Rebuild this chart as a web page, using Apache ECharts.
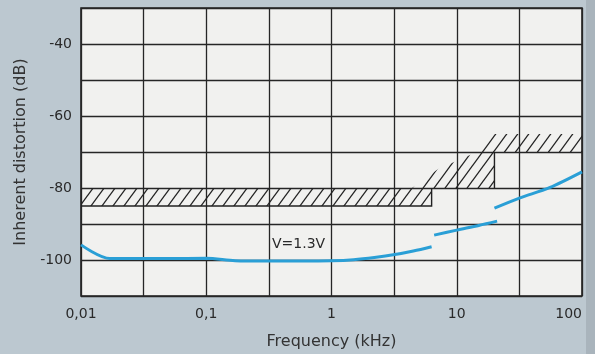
<!DOCTYPE html>
<html>
<head>
<meta charset="utf-8">
<script src="https://cdn.jsdelivr.net/npm/echarts@6/dist/echarts.min.js"></script>
<style>
html,body{margin:0;padding:0;background:#bcc8d0;}
#chart{width:595px;height:354px;}
</style>
</head>
<body>
<div id="chart"></div>
<script>
// ---- data ----
const xTickLabels = ['0,01', '0,1', '1', '10', '100'];   // decades 0.01 .. 100 kHz
const yTickLabels = [-100, -80, -60, -40];
const curveLow = [[0.01,-95.8],[0.017,-99.6],[0.05,-99.6],[0.1,-99.5],[0.17,-100.2],[0.3,-100.3],[0.6,-100.3],[1,-100.2],[1.5,-99.9],[2.2,-99.3],[3.2,-98.5],[4.5,-97.5],[6.3,-96.3]];
const curveMid = [[6.6,-93.1],[10,-91.7],[15,-90.4],[21,-89.2]];
const curveHigh = [[20,-85.6],[31.6,-82.8],[55,-79.9],[100,-75.5]];
const hatchBandLow = [[0.01,-80],[6.3,-80],[6.3,-85],[0.01,-85]];
const hatchStep = [[4.4,-80],[20,-80],[20,-70],[100,-70],[100,-65],[18.4,-65],[14.5,-70],[7.1,-74.7]];
const borderLow = [[0.01,-85],[6.3,-85],[6.3,-80]];
const borderStep = [[20,-80],[20,-70]];
const curveLabel = 'V=1.3V';

// ---- hatch pattern ----
function makeHatch(){
  const w = 11, h = 15;
  const c = document.createElement('canvas');
  c.width = w; c.height = h;
  const ctx = c.getContext('2d');
  ctx.strokeStyle = '#222';
  ctx.lineWidth = 1.3;
  [-w, 0, w].forEach(o => {
    ctx.beginPath();
    ctx.moveTo(o - w, 2 * h);
    ctx.lineTo(o + 2 * w, -h);
    ctx.stroke();
  });
  return c;
}
const hatchCanvas = makeHatch();
const hatchRegions = [hatchBandLow, hatchStep];
const borders = [borderLow, borderStep];

const chart = echarts.init(document.getElementById('chart'), null, {renderer: 'canvas'});
const fontFam = '"DejaVu Sans", "Liberation Sans", sans-serif';
const blue = '#2a9fd6';

function lineSeries(data){
  return {
    type: 'line', xAxisIndex: 0, yAxisIndex: 0, data: data,
    symbol: 'none', smooth: 0.3, z: 5,
    lineStyle: {color: blue, width: 3, cap: 'butt'}
  };
}

chart.setOption({
  backgroundColor: '#bcc8d0',
  animation: false,
  grid: {
    left: 81, right: 13, top: 8, bottom: 58,
    show: true, backgroundColor: '#f1f1ef', borderColor: '#222', borderWidth: 1.6,
    outerBoundsMode: 'none'
  },
  xAxis: [
    {
      type: 'log', logBase: 10, min: 0.01, max: 100,
      name: 'Frequency (kHz)', nameLocation: 'middle', nameGap: 38,
      nameTextStyle: {fontFamily: fontFam, fontSize: 16, color: '#333'},
      axisLine: {show: false}, axisTick: {show: false}, splitLine: {show: false},
      axisLabel: {
        fontFamily: fontFam, fontSize: 14, color: '#2a2a2a', margin: 11,
        alignMaxLabel: 'right',
        formatter: v => xTickLabels[Math.round(Math.log10(v)) + 2] || ''
      }
    },
    {
      // half-decade grid lines only
      type: 'value', min: -2, max: 2, interval: 0.5, position: 'bottom',
      axisLine: {show: false}, axisTick: {show: false}, axisLabel: {show: false},
      splitLine: {show: true, lineStyle: {color: '#262626', width: 1.3}}
    }
  ],
  yAxis: {
    type: 'value', min: -110, max: -30, interval: 10,
    name: 'Inherent distortion (dB)', nameLocation: 'middle', nameGap: 50,
    nameTextStyle: {fontFamily: fontFam, fontSize: 16, color: '#333'},
    axisLine: {show: false}, axisTick: {show: false},
    splitLine: {show: true, lineStyle: {color: '#262626', width: 1.3}},
    axisLabel: {
      fontFamily: fontFam, fontSize: 14, color: '#2a2a2a', margin: 9,
      formatter: v => yTickLabels.indexOf(v) >= 0 ? String(v) : ''
    }
  },
  graphic: [
    {type: 'rect', left: 586, top: 0, shape: {width: 9, height: 354}, style: {fill: '#a9b4bc'}, z: -1},
    {type: 'text', left: 272, top: 237, style: {text: curveLabel, font: '14px "DejaVu Sans", sans-serif', fill: '#2a2a2a'}, z: 10}
  ],
  series: [
    {
      type: 'custom', xAxisIndex: 0, yAxisIndex: 0, z: 3, clip: true,
      data: hatchRegions.map((poly, i) => [poly[0][0], poly[0][1], i]),
      encode: {x: 0, y: 1},
      renderItem: function(params, api){
        const poly = hatchRegions[api.value(2)];
        return {
          type: 'polygon',
          shape: {points: poly.map(p => api.coord(p))},
          style: {fill: {image: hatchCanvas, repeat: 'repeat'}, stroke: null}
        };
      }
    },
    {
      type: 'custom', xAxisIndex: 0, yAxisIndex: 0, z: 4,
      data: borders.map((b, i) => [b[0][0], b[0][1], i]),
      encode: {x: 0, y: 1},
      renderItem: function(params, api){
        const b = borders[api.value(2)];
        return {
          type: 'polyline',
          shape: {points: b.map(p => api.coord(p))},
          style: {stroke: '#222', lineWidth: 1.4, fill: null}
        };
      }
    },
    lineSeries(curveLow),
    lineSeries(curveMid),
    lineSeries(curveHigh)
  ]
});
</script>
</body>
</html>
